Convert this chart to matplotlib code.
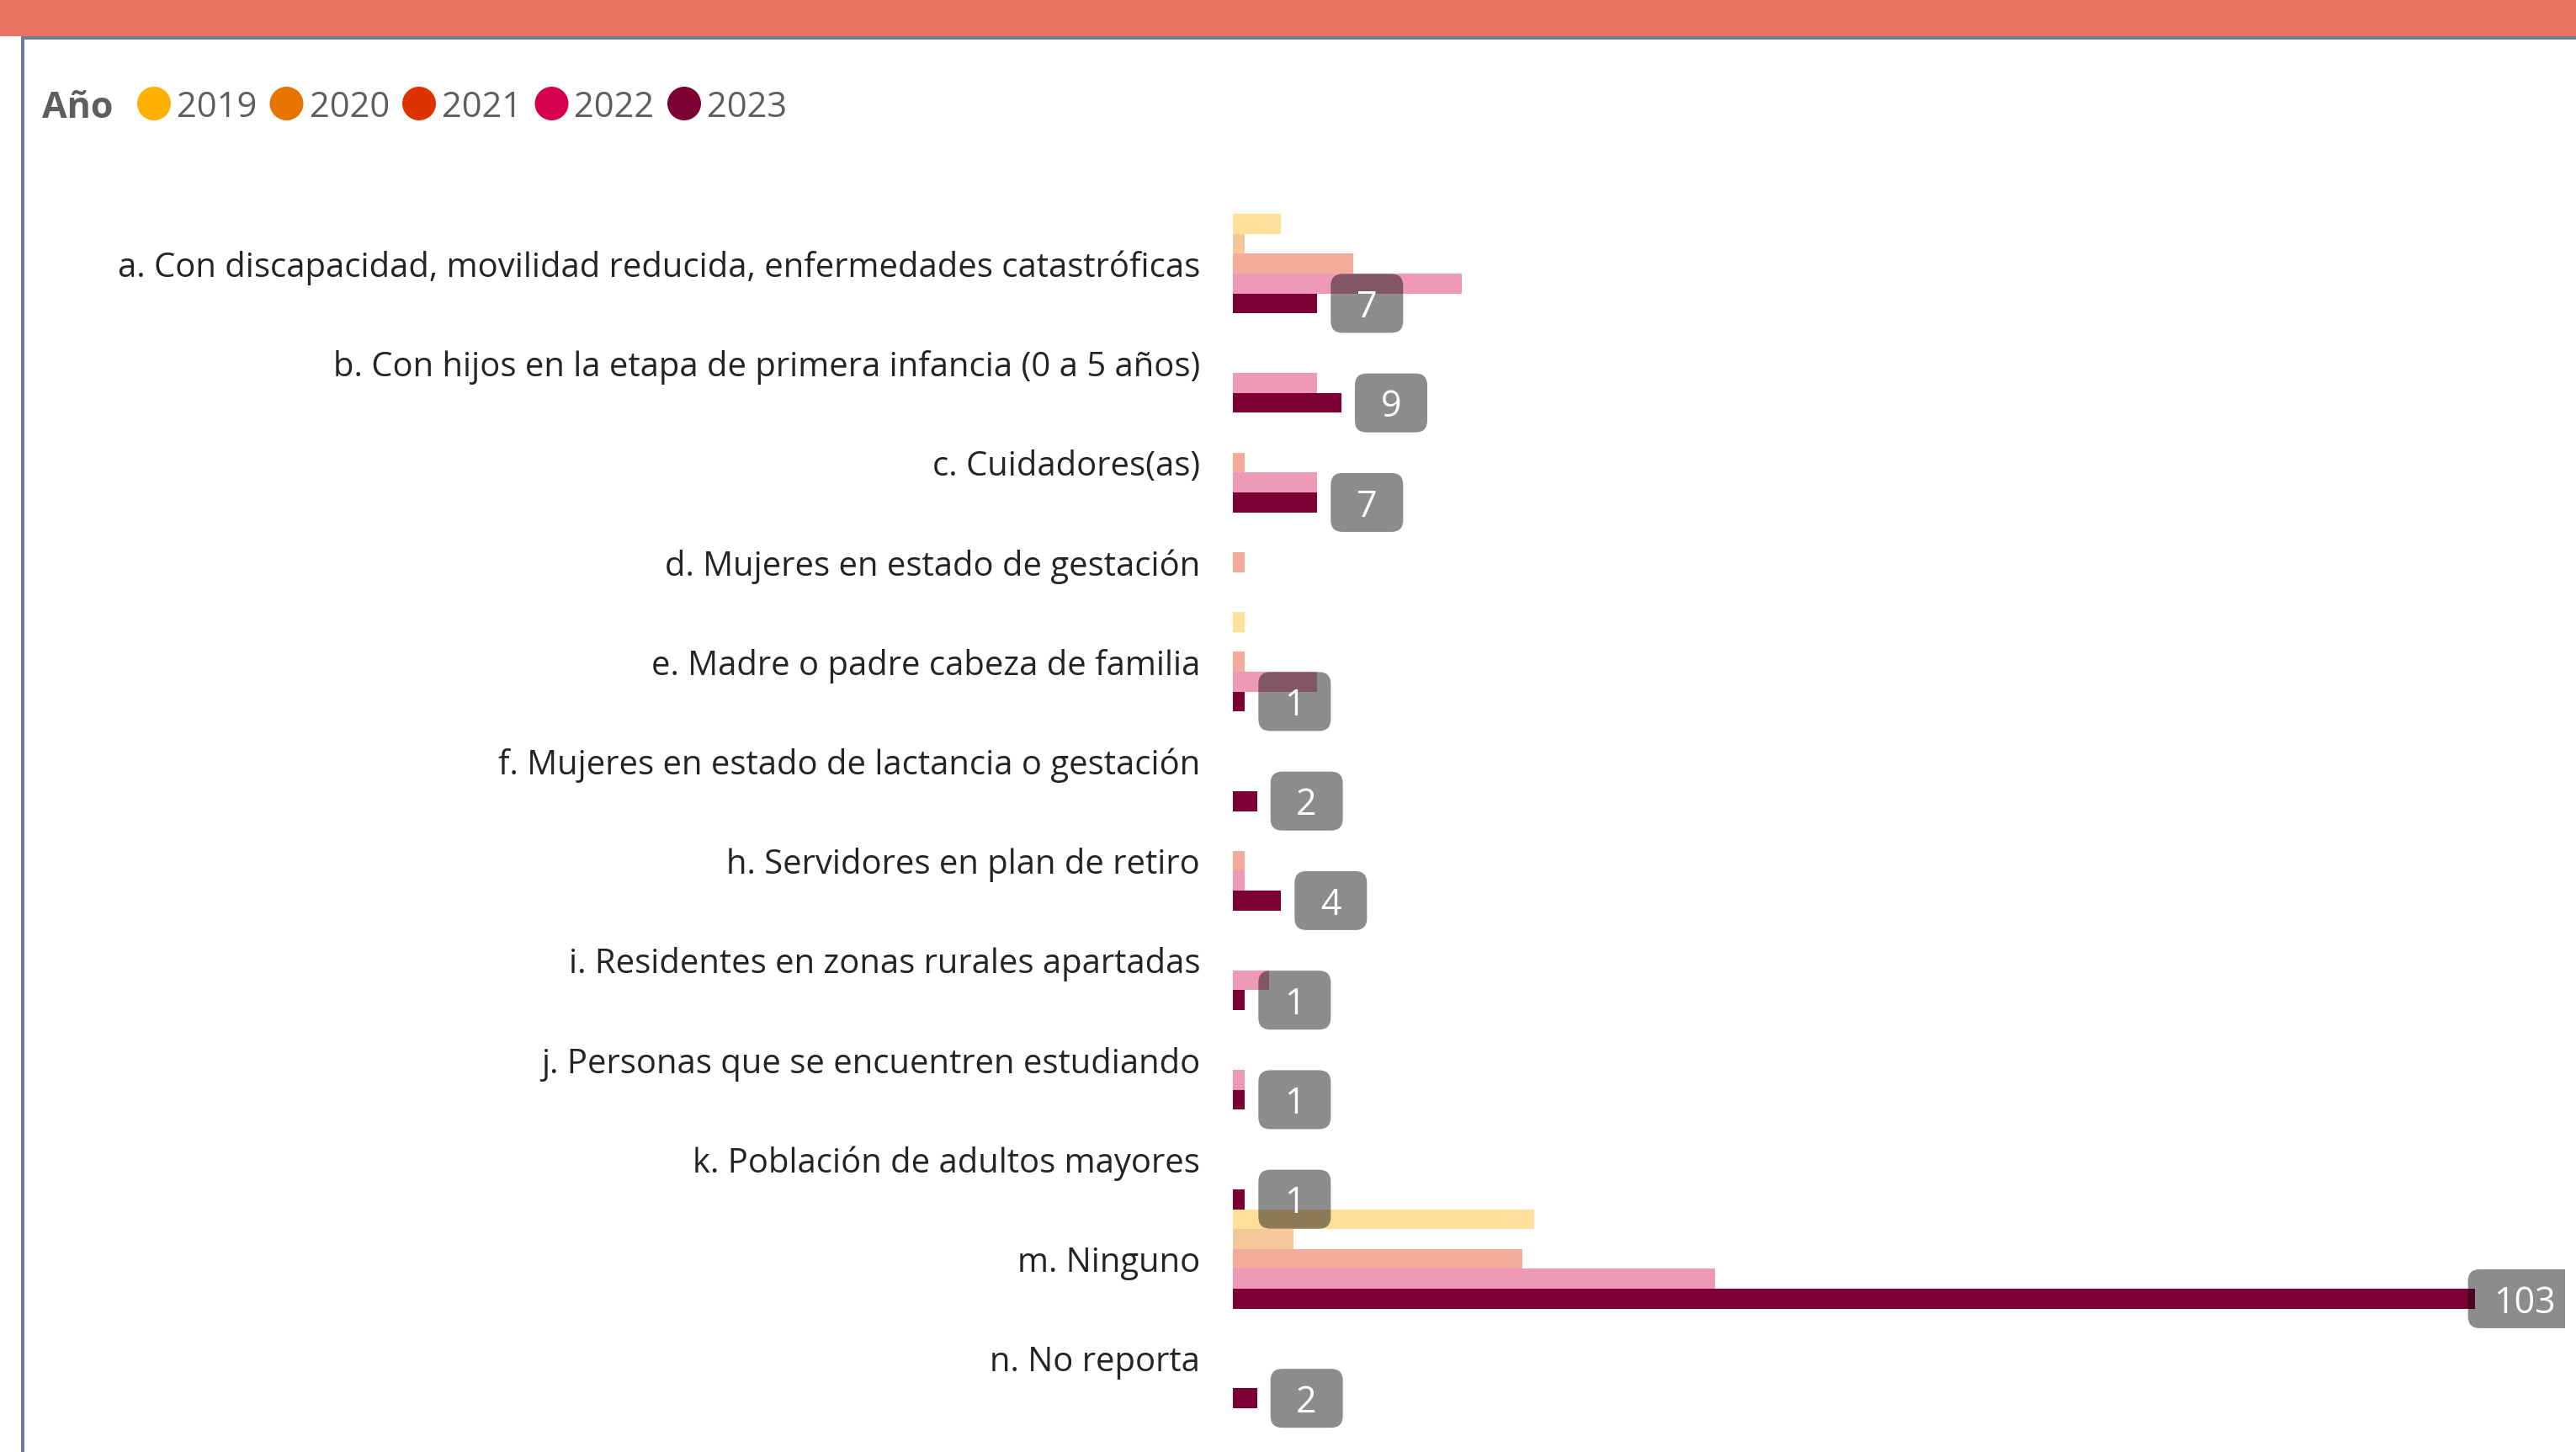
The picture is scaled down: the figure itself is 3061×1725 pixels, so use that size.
import matplotlib
matplotlib.use("Agg")
import matplotlib.pyplot as plt
from matplotlib.patches import FancyBboxPatch, Rectangle, Circle

# ---------------------------------------------------------
# Data
# ---------------------------------------------------------
categories = [
    "a. Con discapacidad, movilidad reducida, enfermedades catastróficas",
    "b. Con hijos en la etapa de primera infancia (0 a 5 años)",
    "c. Cuidadores(as)",
    "d. Mujeres en estado de gestación",
    "e. Madre o padre cabeza de familia",
    "f. Mujeres en estado de lactancia o gestación",
    "h. Servidores en plan de retiro",
    "i. Residentes en zonas rurales apartadas",
    "j. Personas que se encuentren estudiando",
    "k. Población de adultos mayores",
    "m. Ninguno",
    "n. No reporta",
]

years = ["2019", "2020", "2021", "2022", "2023"]

v2019 = [4, 0, 0, 0, 1, 0, 0, 0, 0, 0, 25, 0]
v2020 = [1, 0, 0, 0, 0, 0, 0, 0, 0, 0, 5, 0]
v2021 = [10, 0, 1, 1, 1, 0, 1, 0, 0, 0, 24, 0]
v2022 = [19, 7, 7, 0, 7, 0, 1, 3, 1, 0, 40, 0]
v2023 = [7, 9, 7, 0, 1, 2, 4, 1, 1, 1, 103, 2]

series = [v2019, v2020, v2021, v2022, v2023]
colors = ["#FFB000", "#E87400", "#DE3200", "#D6004F", "#7D0033"]
alphas = [0.4, 0.4, 0.4, 0.4, 1.0]

# ---------------------------------------------------------
# Figure layout (pixels)
# ---------------------------------------------------------
W, H = 3061, 1725
fig = plt.figure(figsize=(W / 100, H / 100), dpi=100)
plt.rcParams["font.family"] = ["Open Sans", "DejaVu Sans"]

ax_left, ax_right = 1465, 3048
ax_top, ax_bottom = 254, 1673
ax = fig.add_axes([ax_left / W, 1 - ax_bottom / H,
                   (ax_right - ax_left) / W, (ax_bottom - ax_top) / H])

n = len(categories)
xmax = 110.47
ax.set_xlim(0, xmax)
ax.set_ylim(n - 0.5, -0.5)

bar_h = 1.0 / len(years)
for i, (vals, col, a) in enumerate(zip(series, colors, alphas)):
    ypos = [k - 0.5 + bar_h * (i + 0.5) for k in range(n)]
    ax.barh(ypos, vals, height=bar_h, color=col, alpha=a, linewidth=0)

# ---------------------------------------------------------
# Data labels (2023 only) in rounded grey boxes
# ---------------------------------------------------------
# clip horizontally at the visual edge, but let boxes spill vertically
clip = Rectangle((0, -0.1), 1, 1.2, transform=ax.transAxes, fc="none", ec="none")
px_x = (ax_right - ax_left) / xmax
px_y = (ax_bottom - ax_top) / n
for k, v in enumerate(v2023):
    if v == 0:
        continue
    nd = len(str(v))
    w = (62 + 24 * nd) / px_x
    h = 70 / px_y
    gap = 16 / px_x
    left = min(v + gap, xmax - w + 1.3)
    yc = k - 0.5 + bar_h * 4.5
    box = FancyBboxPatch((left, yc - h / 2), w, h,
                         boxstyle="round,pad=0,rounding_size=%f" % (14 / px_x),
                         mutation_aspect=px_x / px_y,
                         fc="#0b0b0b", ec="none", alpha=0.47)
    ax.add_patch(box)
    box.set_clip_path(clip)
    t = ax.text(left + w / 2, yc, str(v), ha="center", va="center_baseline",
                color="white", fontsize=31)
    t.set_clip_path(clip)

ax.set_yticks(range(n))
ax.set_yticklabels(categories, fontsize=28.8, color="#252423")
ax.tick_params(axis="y", length=0, pad=28)
ax.set_xticks([])
for s in ax.spines.values():
    s.set_visible(False)

# ---------------------------------------------------------
# Header banner, borders and legend
# ---------------------------------------------------------
fig.patches.append(Rectangle((0, 1 - 43 / H), 1, 43 / H, transform=fig.transFigure,
                             fc="#EB7363", ec="none"))
fig.patches.append(Rectangle((25 / W, 1 - 47 / H), 1, 4 / H, transform=fig.transFigure,
                             fc="#6E7E9A", ec="none"))
fig.patches.append(Rectangle((25 / W, 0), 4 / W, 1 - 43 / H, transform=fig.transFigure,
                             fc="#6B7D99", ec="none"))

ly = 123
fig.text(50 / W, 1 - ly / H, "Año", fontsize=31, fontweight="bold",
         color="#605E5C", va="center_baseline", ha="left")
for i, (yr, col) in enumerate(zip(years, colors)):
    cx = 183 + 157.5 * i
    fig.patches.append(Circle((cx / 100, (H - ly) / 100), 0.2,
                              transform=fig.dpi_scale_trans, fc=col, ec="none"))
    fig.text((cx + 27) / W, 1 - ly / H, yr, fontsize=30, color="#605E5C",
             va="center_baseline", ha="left")

plt.savefig("out.png", dpi=100)
